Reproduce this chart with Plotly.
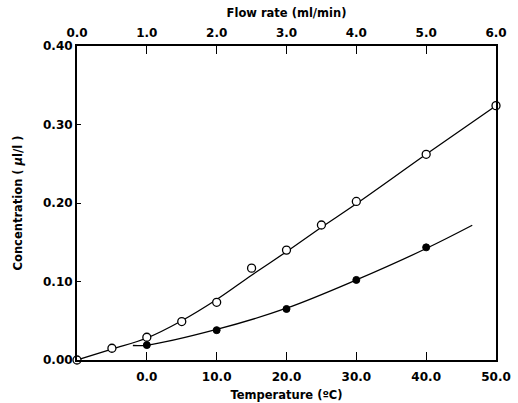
import plotly.graph_objects as go

# Open circles: concentration vs flow rate (top axis)
flow_rate = [0.0, 0.5, 1.0, 1.5, 2.0, 2.5, 3.0, 3.5, 4.0, 5.0, 6.0]
conc_flow = [0.000, 0.015, 0.029, 0.049, 0.0735, 0.117, 0.140, 0.172, 0.202, 0.262, 0.324]
# hand-drawn smooth curve through the open circles
flow_curve_x = [0.0, 0.5, 1.0, 1.5, 2.0, 2.5, 3.0, 3.5, 4.0, 5.0, 6.0]
flow_curve_y = [0.000, 0.014, 0.028, 0.050, 0.077, 0.108, 0.138, 0.169, 0.199, 0.262, 0.324]

# Filled circles: concentration vs temperature (bottom axis)
temperature = [0.0, 10.0, 20.0, 30.0, 40.0]
conc_temp = [0.019, 0.038, 0.065, 0.102, 0.1435]
temp_curve_x = [-2.0, 0.0, 10.0, 20.0, 30.0, 40.0, 46.6]
temp_curve_y = [0.0185, 0.019, 0.039, 0.066, 0.102, 0.142, 0.1716]

temp_ticks = [0, 10, 20, 30, 40, 50]
temp_labels = ["0.0", "10.0", "20.0", "30.0", "40.0", "50.0"]
flow_ticks = [0, 1, 2, 3, 4, 5, 6]
flow_labels = ["0.0", "1.0", "2.0", "3.0", "4.0", "5.0", "6.0"]
conc_ticks = [0.0, 0.1, 0.2, 0.3, 0.4]
conc_labels = ["0.00", "0.10", "0.20", "0.30", "0.40"]

FONT = "DejaVu Sans, Verdana, sans-serif"
tickfont = dict(family=FONT, size=12, color="black", weight="bold")
titlefont = dict(family=FONT, size=11.5, color="black", weight="bold")

fig = go.Figure()
fig.add_trace(go.Scatter(x=temp_curve_x, y=temp_curve_y, mode="lines",
                         line=dict(color="black", width=1.3, shape="spline"),
                         xaxis="x", yaxis="y", showlegend=False, hoverinfo="skip"))
fig.add_trace(go.Scatter(x=flow_curve_x, y=flow_curve_y, mode="lines",
                         line=dict(color="black", width=1.3, shape="spline"),
                         xaxis="x2", yaxis="y", showlegend=False, hoverinfo="skip"))
fig.add_trace(go.Scatter(x=temperature, y=conc_temp, mode="markers",
                         marker=dict(symbol="circle", size=7, color="black",
                                     line=dict(color="black", width=1)),
                         xaxis="x", yaxis="y", showlegend=False))
fig.add_trace(go.Scatter(x=flow_rate, y=conc_flow, mode="markers",
                         marker=dict(symbol="circle", size=8, color="white",
                                     line=dict(color="black", width=1.3)),
                         xaxis="x2", yaxis="y", showlegend=False, cliponaxis=False))

fig.update_layout(
    width=518, height=403,
    margin=dict(l=77, r=22, t=46, b=43),
    paper_bgcolor="white", plot_bgcolor="white",
    xaxis=dict(range=[-10, 50], tickvals=temp_ticks, ticktext=temp_labels,
               ticks="inside", ticklen=8, tickwidth=1.3, tickcolor="black",
               showline=True, linecolor="black", linewidth=2, automargin=False,
               showgrid=False, zeroline=False, tickfont=tickfont, ticklabelstandoff=5,
               title=dict(text="Temperature (ºC)", standoff=8, font=titlefont)),
    xaxis2=dict(range=[0, 6], tickvals=flow_ticks, ticktext=flow_labels,
                overlaying="x", side="top", automargin=False,
                ticks="inside", ticklen=8, tickwidth=1.3, tickcolor="black",
                showline=True, linecolor="black", linewidth=1.5,
                showgrid=False, zeroline=False, tickfont=tickfont, ticklabelstandoff=2,
                title=dict(text="Flow rate (ml/min)", standoff=6, font=titlefont)),
    yaxis=dict(range=[0, 0.4], tickvals=conc_ticks, ticktext=conc_labels,
               ticks="inside", ticklen=4, tickwidth=1.3, tickcolor="black",
               showline=True, linecolor="black", linewidth=2, mirror=True, automargin=False,
               showgrid=False, zeroline=False, tickfont=tickfont, ticklabelstandoff=0,
               title=dict(text="Concentration ( <i>μ</i>l/l )", standoff=18, font=titlefont)),
)

fig.write_html("out.html")
